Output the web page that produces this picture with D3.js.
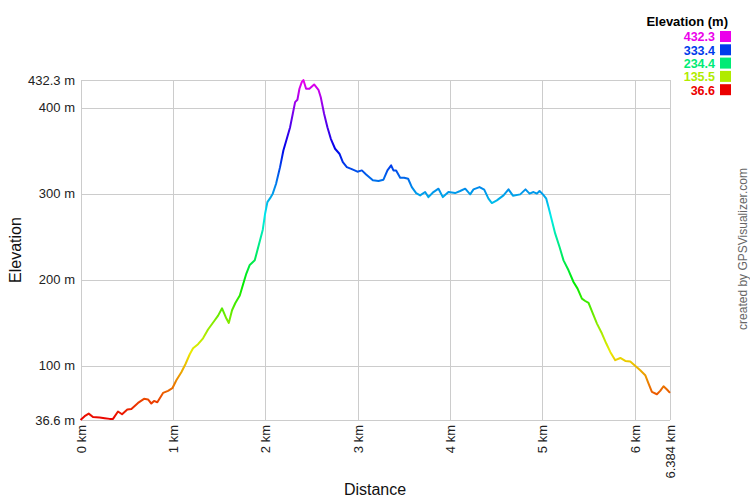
<!DOCTYPE html>
<html><head><meta charset="utf-8">
<script src="https://cdn.jsdelivr.net/npm/d3@7"></script>
<style>
html,body{margin:0;padding:0;background:#fff;}
svg{display:block;font-family:"Liberation Sans",Arial,sans-serif;}
</style></head>
<body><svg id="c" width="750" height="500"></svg>
<script>
const distKm = [0,.045,.089,.135,.208,.262,.316,.352,.406,.450,.507,.551,.623,.688,.731,.767,.796,.832,.894,.948,.995,1.038,1.092,1.136,1.183,1.219,1.273,1.327,1.381,1.454,1.490,1.533,1.580,1.606,1.641,1.677,1.725,1.761,1.796,1.833,1.887,1.974,1.999,2.024,2.061,2.082,2.118,2.161,2.197,2.234,2.270,2.299,2.324,2.349,2.371,2.396,2.414,2.443,2.479,2.530,2.577,2.602,2.638,2.674,2.711,2.757,2.804,2.841,2.884,2.938,2.999,3.047,3.093,3.166,3.227,3.281,3.324,3.364,3.389,3.418,3.462,3.505,3.548,3.588,3.635,3.678,3.732,3.768,3.822,3.877,3.924,3.985,4.057,4.112,4.166,4.220,4.256,4.321,4.372,4.418,4.455,4.509,4.581,4.635,4.683,4.762,4.819,4.863,4.906,4.943,4.971,5.008,5.044,5.068,5.105,5.141,5.188,5.231,5.285,5.339,5.383,5.430,5.466,5.502,5.549,5.593,5.647,5.694,5.737,5.791,5.846,5.900,5.954,6.000,6.062,6.116,6.152,6.188,6.242,6.278,6.314,6.351,6.384];
const elevM = [36.6,41,44,40,39.5,38.7,37.9,37.9,46.5,43.3,48.8,49.5,56.5,61.2,60.5,55.8,58.8,57.3,68.1,70.5,73.6,82.9,92.2,101.5,113.1,120.1,124.8,131.7,141.9,152.7,158.1,166.6,154.7,149.5,164.3,172.8,181.4,194.5,207,217,222.4,258.1,276.7,290.2,296,300,311.6,330.9,350.3,363.9,377.4,393,406.5,409.3,422.1,429.8,432.3,422.1,422.1,427.1,420.9,412.3,393,377.4,363.9,352.3,346.5,336.7,330.9,328.6,325.6,327.1,322.4,315.5,314.7,316.3,327.1,332.9,327.1,327.1,318.6,318.6,317.4,307.7,300.7,298,301.9,296,301.9,305.8,296,301.9,300.7,303.1,305.8,299.2,305,307.7,304.7,294.2,289.1,292.2,298,305,297.7,299.2,305,300,301.9,300,303.1,299.2,294.2,284.4,268.9,253.5,237.9,222.4,210.8,197.2,189.5,177.9,175.1,172.8,160.5,148.8,137.2,125.6,115.8,106.2,108.8,105.3,104.7,100.3,94.5,88.7,79,69.3,66.6,70.5,75.9,72.1,68.1];
const yTicks = [36.6,100,200,300,400,432.3];
const xTicks = [0,1,2,3,4,5,6,6.384];
const legendValues = [432.3,333.4,234.4,135.5,36.6];

const svg = d3.select("#c");
const L = 80.5, R = 670, T = 80, B = 420;
const x = d3.scaleLinear().domain([0, 6.384]).range([L, R]);
const y = d3.scaleLinear().domain([36.6, 432.3]).range([B, T]);
const hue = d3.scaleLinear().domain([36.6, 432.3]).range([0, 300]);
const col = v => d3.hsl(hue(v), 1, 0.46).formatHex();

const ya = svg.append("g").attr("transform", `translate(${L},0)`)
  .call(d3.axisLeft(y).tickValues(yTicks).tickSize(-(R - L)).tickPadding(5.5).tickFormat(d => d + " m"));
const xa = svg.append("g").attr("transform", `translate(0,${B})`)
  .call(d3.axisBottom(x).tickValues(xTicks).tickSize(-(B - T)).tickFormat(d => d + " km"));
[ya, xa].forEach(g => {
  g.select(".domain").remove();
  g.selectAll(".tick line").attr("stroke", "#cccccc").attr("stroke-width", 1).attr("shape-rendering", "crispEdges");
  g.selectAll(".tick text").attr("fill", "#222").attr("font-size", 13).attr("font-family", "Liberation Sans, Arial, sans-serif");
});
xa.selectAll(".tick text").attr("transform", "rotate(-90)").attr("text-anchor", "end")
  .attr("x", -5).attr("y", 0).attr("dy", "0.35em");

const defs = svg.append("defs");
const grad = defs.append("linearGradient").attr("id", "eg").attr("gradientUnits", "userSpaceOnUse")
  .attr("x1", 0).attr("x2", 0).attr("y1", y(36.6)).attr("y2", y(432.3));
d3.range(0, 11).forEach(i => {
  const v = 36.6 + (432.3 - 36.6) * i / 10;
  grad.append("stop").attr("offset", i / 10).attr("stop-color", col(v));
});

const pts = distKm.map((d, i) => [d, elevM[i]]);
svg.append("path").datum(pts)
  .attr("d", d3.line().x(d => x(d[0])).y(d => y(d[1])))
  .attr("fill", "none").attr("stroke", "url(#eg)").attr("stroke-width", 2).attr("stroke-linejoin", "round");

svg.append("text").attr("x", 375).attr("y", 495).attr("text-anchor", "middle").attr("font-size", 16).attr("fill", "#111").text("Distance");
svg.append("text").attr("transform", "translate(21,250) rotate(-90)").attr("text-anchor", "middle").attr("font-size", 16).attr("fill", "#111").text("Elevation");
svg.append("text").attr("transform", "translate(747,249) rotate(-90)").attr("text-anchor", "middle").attr("font-size", 12).attr("fill", "#666").text("created by GPSVisualizer.com");

svg.append("text").attr("x", 728).attr("y", 26).attr("text-anchor", "end").attr("font-size", 13).attr("font-weight", "bold").attr("fill", "#000").text("Elevation (m)");
const lg = svg.append("g").selectAll("g").data(legendValues).join("g")
  .attr("transform", (d, i) => `translate(0,${31 + i * 13.3})`);
lg.append("rect").attr("x", 720).attr("y", 0).attr("width", 11).attr("height", 11).attr("fill", d => col(d));
lg.append("text").attr("x", 715).attr("y", 10.3).attr("text-anchor", "end").attr("font-size", 12.5).attr("font-weight", "bold")
  .attr("fill", d => col(d)).text(d => d.toFixed(1));
</script></body></html>
